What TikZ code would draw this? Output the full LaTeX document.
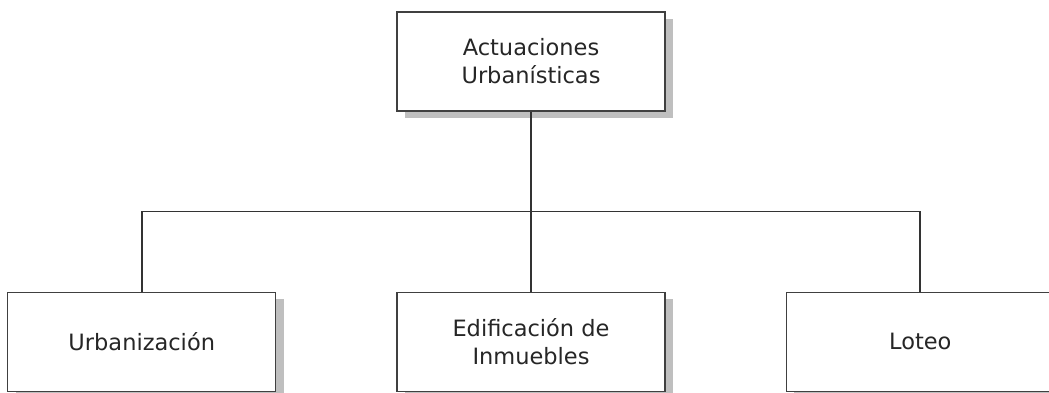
\documentclass[tikz,border=0pt]{standalone}
\usepackage{fontspec}
\setmainfont{DejaVu Sans}
\usetikzlibrary{positioning,shadows}

\tikzset{
  actbox/.style={draw=black!75, line width=0.9pt, fill=white, align=center,
    minimum width=6.7cm, minimum height=2.475cm, inner sep=0pt,
    text=black!85, font=\fontsize{16}{20}\selectfont,
    general shadow={fill=black!25, shadow xshift=0.2cm, shadow yshift=-0.18cm}},
  link/.style={draw=black!80, line width=1.2pt}
}

\begin{document}
\begin{tikzpicture}
            \useasboundingbox (0,0) rectangle (26.225,9.8);
            \node [actbox] (top) at (13.275,8.2625) {Actuaciones\\Urbanísticas};
            \node [actbox, below = 4.5cm of top] (mid) {Edificación de\\Inmuebles};
            \node [actbox, left = 3cm of mid] (urb) {Urbanización};
            \node [actbox, right = 3cm of mid] (lot) {Loteo};
            \draw [link] (top) -- (mid);
            \draw [link] (urb.north) -- ++(0,2) -| (lot.north);
        \end{tikzpicture}
\end{document}
